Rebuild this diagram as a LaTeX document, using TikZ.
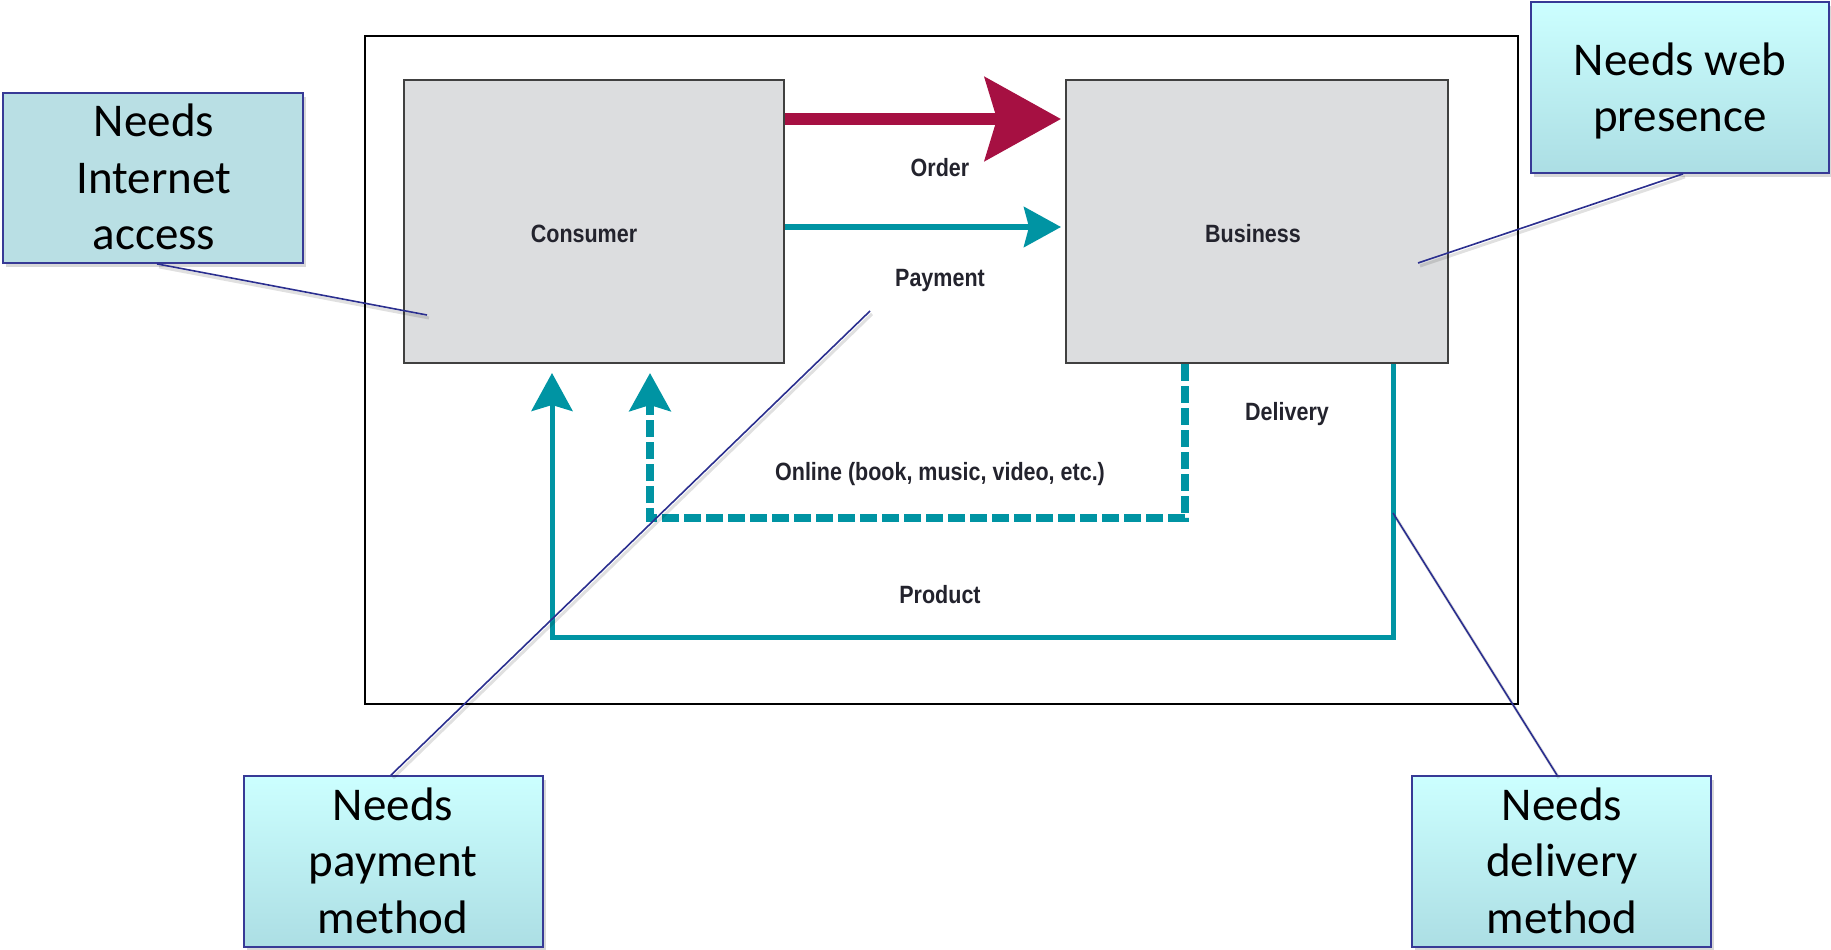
\documentclass[tikz,border=0pt]{standalone}
\usepackage{fontspec}
\usetikzlibrary{arrows.meta,shadows}
\newfontfamily\calloutfont{Carlito}
\newfontfamily\flowfont[FakeStretch=0.86]{Liberation Sans Bold}

\definecolor{partyfill}{RGB}{220,221,223}
\definecolor{partyedge}{RGB}{64,64,64}
\definecolor{orderred}{RGB}{166,16,66}
\definecolor{flowteal}{RGB}{0,148,163}
\definecolor{labelink}{RGB}{35,35,45}
\definecolor{calloutedge}{RGB}{55,58,150}
\definecolor{calloutline}{RGB}{43,47,143}
\definecolor{calloutflat}{RGB}{185,223,228}
\definecolor{callouttop}{RGB}{204,255,255}
\definecolor{calloutbottom}{RGB}{172,222,228}

\newcommand{\threelines}[3]{\vtop{\halign{\hfil##\hfil\cr #1\cr #2\cr #3\cr}}}
\newcommand{\twolines}[2]{\vtop{\halign{\hfil##\hfil\cr #1\cr #2\cr}}}

\begin{document}
\begin{tikzpicture}[x=1pt,y=-1pt,
  party/.style={draw=partyedge, line width=2pt, fill=partyfill,
    minimum height=283pt, inner sep=0pt},
  flowlbl/.style={font=\flowfont\fontsize{25}{30}\selectfont, text=labelink,
    anchor=base, inner sep=0pt},
  orderarrow/.style={draw=orderred, line width=12pt,
    -{Stealth[length=76pt,width=83pt,inset=12pt]}},
  payarrow/.style={draw=flowteal, line width=6pt,
    -{Stealth[length=37pt,width=40pt,inset=5pt]}},
  uparrowtip/.style={-{Stealth[length=38pt,width=41pt,inset=6pt]}},
  productarrow/.style={draw=flowteal, line width=5pt, line join=miter, uparrowtip},
  onlinearrow/.style={draw=flowteal, line width=7.5pt, line join=miter,
    dash pattern=on 17pt off 5pt, uparrowtip},
  calloutbox/.style={draw=calloutedge, line width=1.8pt, inner sep=0pt,
    minimum width=299pt, minimum height=171pt,
    drop shadow={shadow xshift=3pt, shadow yshift=-4pt, opacity=.28, fill=black!55}},
  gradbox/.style={calloutbox, top color=callouttop, bottom color=calloutbottom},
  callouttext/.style={font=\calloutfont\fontsize{47}{56.5}\selectfont,
    anchor=base, inner sep=0pt},
  calloutlink/.style={draw=calloutline, line width=1.6pt},
  linkshadow/.style={draw=black, opacity=.12, line width=3pt}
]
\fill[white] (0,0) rectangle (1831,950);
\useasboundingbox (0,0) rectangle (1831,950);

% outer frame of the commerce model
\draw[line width=2pt, black] (365,36) rectangle (1518,704);

% the two parties
\node[party, minimum width=380pt] (cons) at (594,221.5) {};
\node[party, minimum width=382pt] (bus) at (1257,221.5) {};
\node[flowlbl] (conslbl) at (584,242.7) {Consumer};
\node[flowlbl] (buslbl) at (1253,242.7) {Business};

% order and payment flows
\draw[orderarrow, shorten >=4pt] (cons.east |- 0,119) -- (bus.west |- 0,119);
\draw[payarrow, shorten >=4pt] (cons.east |- 0,227) -- (bus.west |- 0,227);
\node[flowlbl] (orderlbl) at (940,176.7) {Order};
\node[flowlbl] (paylbl) at (940,286.7) {Payment};

% delivery flows
\draw[productarrow, shorten >=9pt] (1393,0 |- bus.south) -- (1393,637.5)
  -- (552,637.5) -- (552,0 |- cons.south);
\draw[onlinearrow, shorten >=9pt] (1185,0 |- bus.south) -- (1185,518)
  -- (650,518) -- (650,0 |- cons.south);
\node[flowlbl] (delivlbl) at (1287,420) {Delivery};
\node[flowlbl] (onlinelbl) at (940,480) {Online (book, music, video, etc.)};
\node[flowlbl] (productlbl) at (940,603) {Product};

% callout boxes
\node[calloutbox, fill=calloutflat, minimum width=300pt, minimum height=170pt]
  (needaccess) at (153,178) {};
\node[gradbox, minimum width=298pt] (needweb) at (1680,87.5) {};
\node[gradbox] (needpay) at (393.5,861.5) {};
\node[gradbox] (needdeliv) at (1561.5,861.5) {};

\node[callouttext] (needaccesstext) at (154,136.7) {\threelines{Needs}{Internet}{access}};
\node[callouttext] (needwebtext) at (1680,75) {\twolines{Needs web}{presence}};
\node[callouttext] (needpaytext) at (393,820) {\threelines{Needs}{payment}{method}};
\node[callouttext] (needdelivtext) at (1562,820) {\threelines{Needs}{delivery}{method}};

% callout pointers
\coordinate (accesspt) at (427,315);
\coordinate (webpt) at (1418,263);
\coordinate (paypt) at (870,311);
\coordinate (delivpt) at (1393,513);

\draw[linkshadow, transform canvas={shift={(2pt,-3pt)}}]
  ([xshift=4pt]needaccess.south) -- (accesspt);
\draw[linkshadow, transform canvas={shift={(2pt,-3pt)}}]
  ([xshift=3pt]needweb.south) -- (webpt);
\draw[linkshadow, transform canvas={shift={(2pt,-3pt)}}]
  ([xshift=-2.5pt]needpay.north) -- (paypt);
\draw[linkshadow, transform canvas={shift={(2pt,-3pt)}}]
  ([xshift=-4.5pt]needdeliv.north) -- (delivpt);

\draw[calloutlink] ([xshift=4pt]needaccess.south) -- (accesspt);
\draw[calloutlink] ([xshift=3pt]needweb.south) -- (webpt);
\draw[calloutlink] ([xshift=-2.5pt]needpay.north) -- (paypt);
\draw[calloutlink] ([xshift=-4.5pt]needdeliv.north) -- (delivpt);
\end{tikzpicture}
\end{document}
